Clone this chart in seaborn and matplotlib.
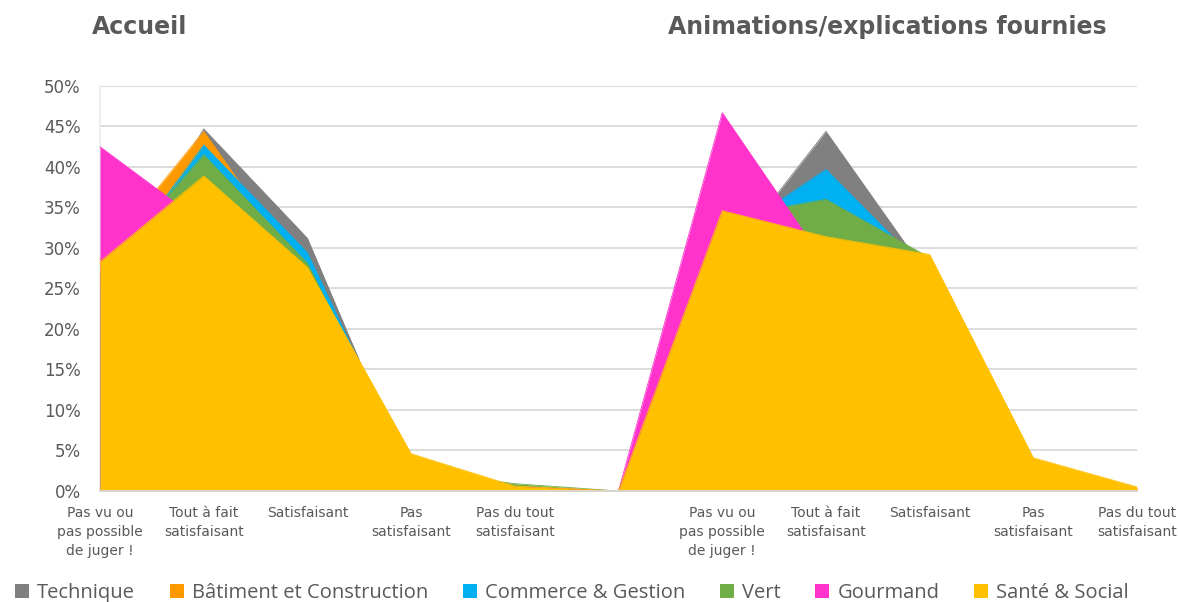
import numpy as np
import pandas as pd
import matplotlib
matplotlib.use("Agg")
import matplotlib.pyplot as plt
from matplotlib.patches import Patch
import seaborn as sns

# categories (same 5 answers for both questions, one empty slot in between)
answers = ["Pas vu ou\npas possible\nde juger !", "Tout à fait\nsatisfaisant", "Satisfaisant",
           "Pas\nsatisfaisant", "Pas du tout\nsatisfaisant"]
gap_label = [""]

series = ["Technique", "Bâtiment et Construction", "Commerce & Gestion", "Vert", "Gourmand", "Santé & Social"]
colors = ["#808080", "#FF9900", "#00B0F0", "#70AD47", "#FF33CC", "#FFC000"]

# values (share of answers), Accueil then Animations
technique_acc = [0.230, 0.447, 0.312, 0.011, 0.000]
technique_ani = [0.280, 0.444, 0.263, 0.013, 0.000]
batiment_acc = [0.286, 0.444, 0.262, 0.008, 0.000]
batiment_ani = [0.340, 0.330, 0.285, 0.035, 0.000]
commerce_acc = [0.253, 0.427, 0.294, 0.023, 0.003]
commerce_ani = [0.311, 0.397, 0.268, 0.022, 0.002]
vert_acc = [0.269, 0.415, 0.281, 0.026, 0.009]
vert_ani = [0.337, 0.360, 0.288, 0.015, 0.000]
gourmand_acc = [0.425, 0.330, 0.210, 0.030, 0.005]
gourmand_ani = [0.467, 0.280, 0.220, 0.030, 0.003]
sante_acc = [0.283, 0.389, 0.276, 0.046, 0.006]
sante_ani = [0.346, 0.314, 0.292, 0.041, 0.005]

acc = [technique_acc, batiment_acc, commerce_acc, vert_acc, gourmand_acc, sante_acc]
ani = [technique_ani, batiment_ani, commerce_ani, vert_ani, gourmand_ani, sante_ani]

labels = answers + gap_label + answers
x = np.arange(len(labels))

rows = []
for name, a, b in zip(series, acc, ani):
    vals = list(a) + [0.0] + list(b)
    for i, v in enumerate(vals):
        rows.append({"serie": name, "x": i, "val": v})
df = pd.DataFrame(rows)

sns.set_theme(style="white")
plt.rcParams["font.family"] = ["DejaVu Sans"]

fig = plt.figure(figsize=(11.78, 6.02), dpi=100)
ax = fig.add_axes([0.0849, 0.1844, 0.8803, 0.6728])

# overlapping areas, first series at the back
for k, (name, col) in enumerate(zip(series, colors)):
    d = df[df["serie"] == name]
    ax.fill_between(d["x"], d["val"], 0, color=col, linewidth=0, zorder=2 + k)
    sns.lineplot(data=d, x="x", y="val", ax=ax, color=col, linewidth=0.6, zorder=2 + k)

ax.set_xlim(0, 10)
ax.set_ylim(0, 0.5)
ax.set_yticks(np.arange(0, 0.51, 0.05))
ax.set_yticklabels([f"{int(round(t * 100))}%" for t in np.arange(0, 0.51, 0.05)],
                   fontsize=12, color="#595959")
ax.set_xticks(x)
ax.set_xticklabels(labels, fontsize=10, color="#595959", linespacing=1.45)
ax.tick_params(axis="x", length=0, pad=11)
ax.tick_params(axis="y", length=0, pad=14)
ax.set_xlabel("")
ax.set_ylabel("")
ax.yaxis.grid(True, color="#D9D9D9", linewidth=1.3, zorder=0)
ax.set_axisbelow(True)
for s in ["top", "right"]:
    ax.spines[s].set_visible(False)
ax.spines["left"].set_color("#EBEBEB")
ax.spines["bottom"].set_color("#D9D9D9")
ax.spines["bottom"].set_linewidth(1.3)
ax.spines["bottom"].set_zorder(20)

fig.text(92 / 1178, 1 - 27 / 602, "Accueil", fontsize=17, fontweight="bold",
         color="#595959", ha="left", va="center")
fig.text(668 / 1178, 1 - 27 / 602, "Animations/explications fournies", fontsize=17,
         fontweight="bold", color="#595959", ha="left", va="center")

handles = [Patch(facecolor=c, edgecolor="none") for c in colors]
leg = fig.legend(handles, series, loc="center", bbox_to_anchor=(0.4855, 1 - 593 / 602), ncol=6,
                 frameon=False, handlelength=0.7, handleheight=0.7, handletextpad=0.4,
                 columnspacing=1.72, prop={"family": "Open Sans", "size": 14.5})
for t in leg.get_texts():
    t.set_color("#595959")

fig.savefig("out.png", dpi=100)
